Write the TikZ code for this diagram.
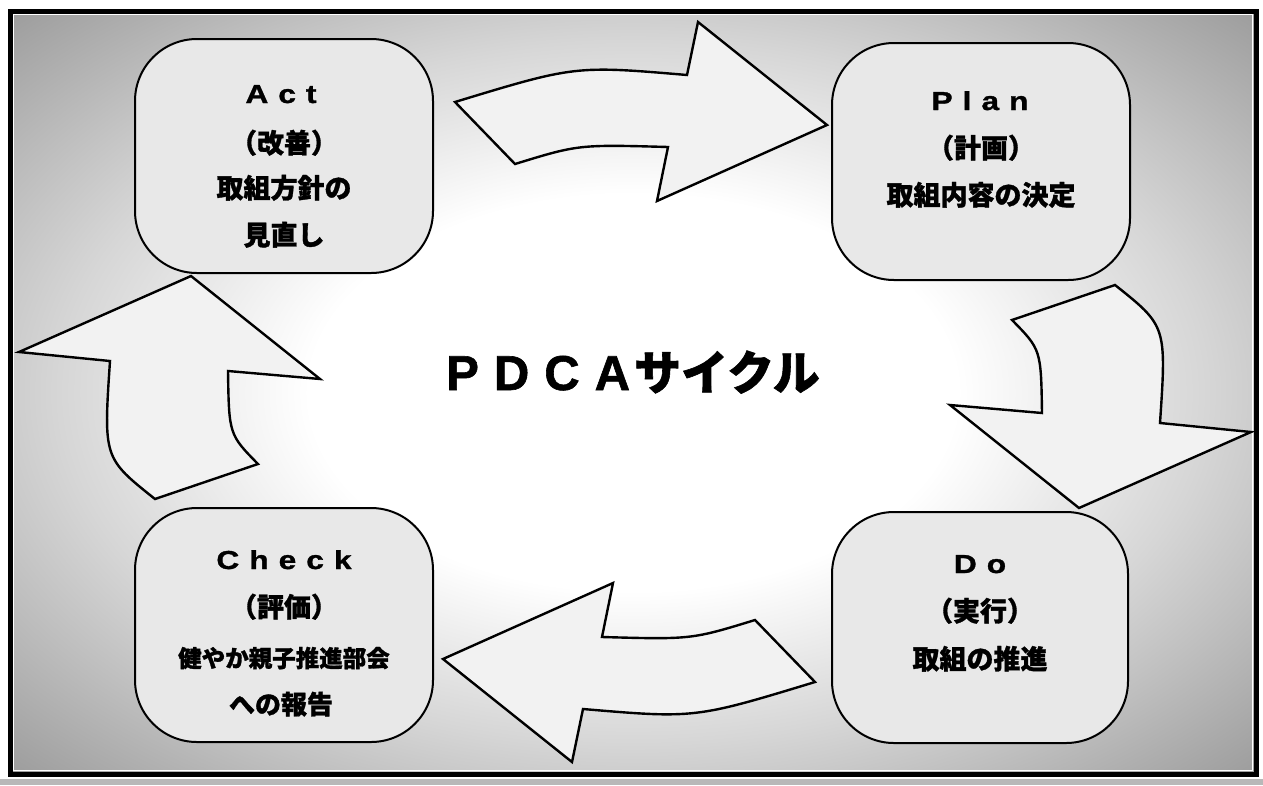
\documentclass[tikz,border=0pt]{standalone}
\usepackage{fontspec}
\newfontfamily\jpfont{Noto Sans CJK JP}[BoldFeatures={FakeBold=1.2}]
\newfontfamily\lafont{Liberation Sans}[BoldFeatures={FakeBold=1.2}]
\newfontfamily\lawide{Liberation Sans}[FakeStretch=1.22, BoldFeatures={FakeBold=1.2}]
\newcommand\lsp{\hspace{10pt}}
\pgfdeclareradialshading{bgshade}{\pgfpoint{0bp}{0bp}}{color(0bp)=(white); color(13bp)=(white); color(23bp)=(black!16); color(35bp)=(black!38); color(50bp)=(black!60); color(71bp)=(black!68)}
\tikzset{
  pdcabox/.style={draw=black, line width=2pt, fill=black!9, rounded corners=62pt, inner sep=0pt},
  blockarrow/.style={draw=black, line width=2.4pt, fill=black!5, line join=miter},
  lat/.style={font=\lawide\bfseries\fontsize{26}{30}\selectfont, anchor=base, inner sep=0pt},
  jp/.style={font=\jpfont\bfseries\fontsize{27}{30}\selectfont, anchor=base, inner sep=0pt},
}
\begin{document}
\begin{tikzpicture}[x=1pt,y=-1pt]
\useasboundingbox (0,0) rectangle (1263,785);
% scan strip below the frame
\fill[black!28] (0,779) rectangle (1263,785);
% background
\shade[shading=bgshade] (10,11) rectangle (1256,774);
\draw[white, line width=1.2pt] (13.5,14.5) rectangle (1252.5,770.5);
\draw[black, line width=5pt] (10,11) rectangle (1256,774);
% block arrows
\draw[blockarrow] (455,102) .. controls (575,65.5) .. (687,75) -- (698,22) -- (827,125) -- (657,201) -- (668,147) .. controls (578.5,144.5) .. (515,164) -- cycle;
\draw[blockarrow] (1012,320) .. controls (1041,349.5) .. (1042,413) -- (950,405) -- (1079,508) -- (1251,432) -- (1160,423) .. controls (1166.5,326) .. (1115,285) -- cycle;
\begin{scope}[rotate around={180:(635,392)}]
\draw[blockarrow] (455,102) .. controls (575,65.5) .. (687,75) -- (698,22) -- (827,125) -- (657,201) -- (668,147) .. controls (578.5,144.5) .. (515,164) -- cycle;
\draw[blockarrow] (1012,320) .. controls (1041,349.5) .. (1042,413) -- (950,405) -- (1079,508) -- (1251,432) -- (1160,423) .. controls (1166.5,326) .. (1115,285) -- cycle;
\end{scope}
% boxes
\node[pdcabox, minimum width=298pt, minimum height=234pt] (act) at (284,156) {};
\node[pdcabox, minimum width=298pt, minimum height=237pt] (plan) at (981,161.5) {};
\node[pdcabox, minimum width=298pt, minimum height=234pt] (check) at (284,625) {};
\node[pdcabox, minimum width=296pt, minimum height=231pt] (do) at (980,627.5) {};
% Act
\node[lat] (act1) at (281,103) {A\lsp c\lsp t};
\node[jp] (act2) at (284,153) {（改善）};
\node[jp] (act3) at (284,198) {取組方針の};
\node[jp] (act4) at (284,245) {見直し};
% Plan
\node[lat] (plan1) at (980,110) {P\lsp l\lsp a\lsp n};
\node[jp] (plan2) at (981,158) {（計画）};
\node[jp] (plan3) at (981,205) {取組内容の決定};
% Check
\node[lat] (check1) at (284,569) {C\lsp h\lsp e\lsp c\lsp k};
\node[jp] (check2) at (284,617) {（評価）};
\node[jp, font=\jpfont\bfseries\fontsize{23.5}{28}\selectfont] (check3) at (284,667) {健やか親子推進部会};
\node[jp, font=\jpfont\bfseries\fontsize{26}{28}\selectfont] (check4) at (281,714) {への報告};
% Do
\node[lat] (do1) at (980,573) {D\lsp o};
\node[jp] (do2) at (980,621) {（実行）};
\node[jp] (do3) at (980,669) {取組の推進};
% centre
\node[anchor=base, inner sep=0pt] (title) at (633,390) {{\lafont\bfseries\fontsize{49}{52}\selectfont P\hspace{15pt}D\hspace{15pt}C\hspace{15pt}A}\hspace{4pt}{\jpfont\bfseries\fontsize{47}{52}\selectfont サイクル}};
\end{tikzpicture}
\end{document}
